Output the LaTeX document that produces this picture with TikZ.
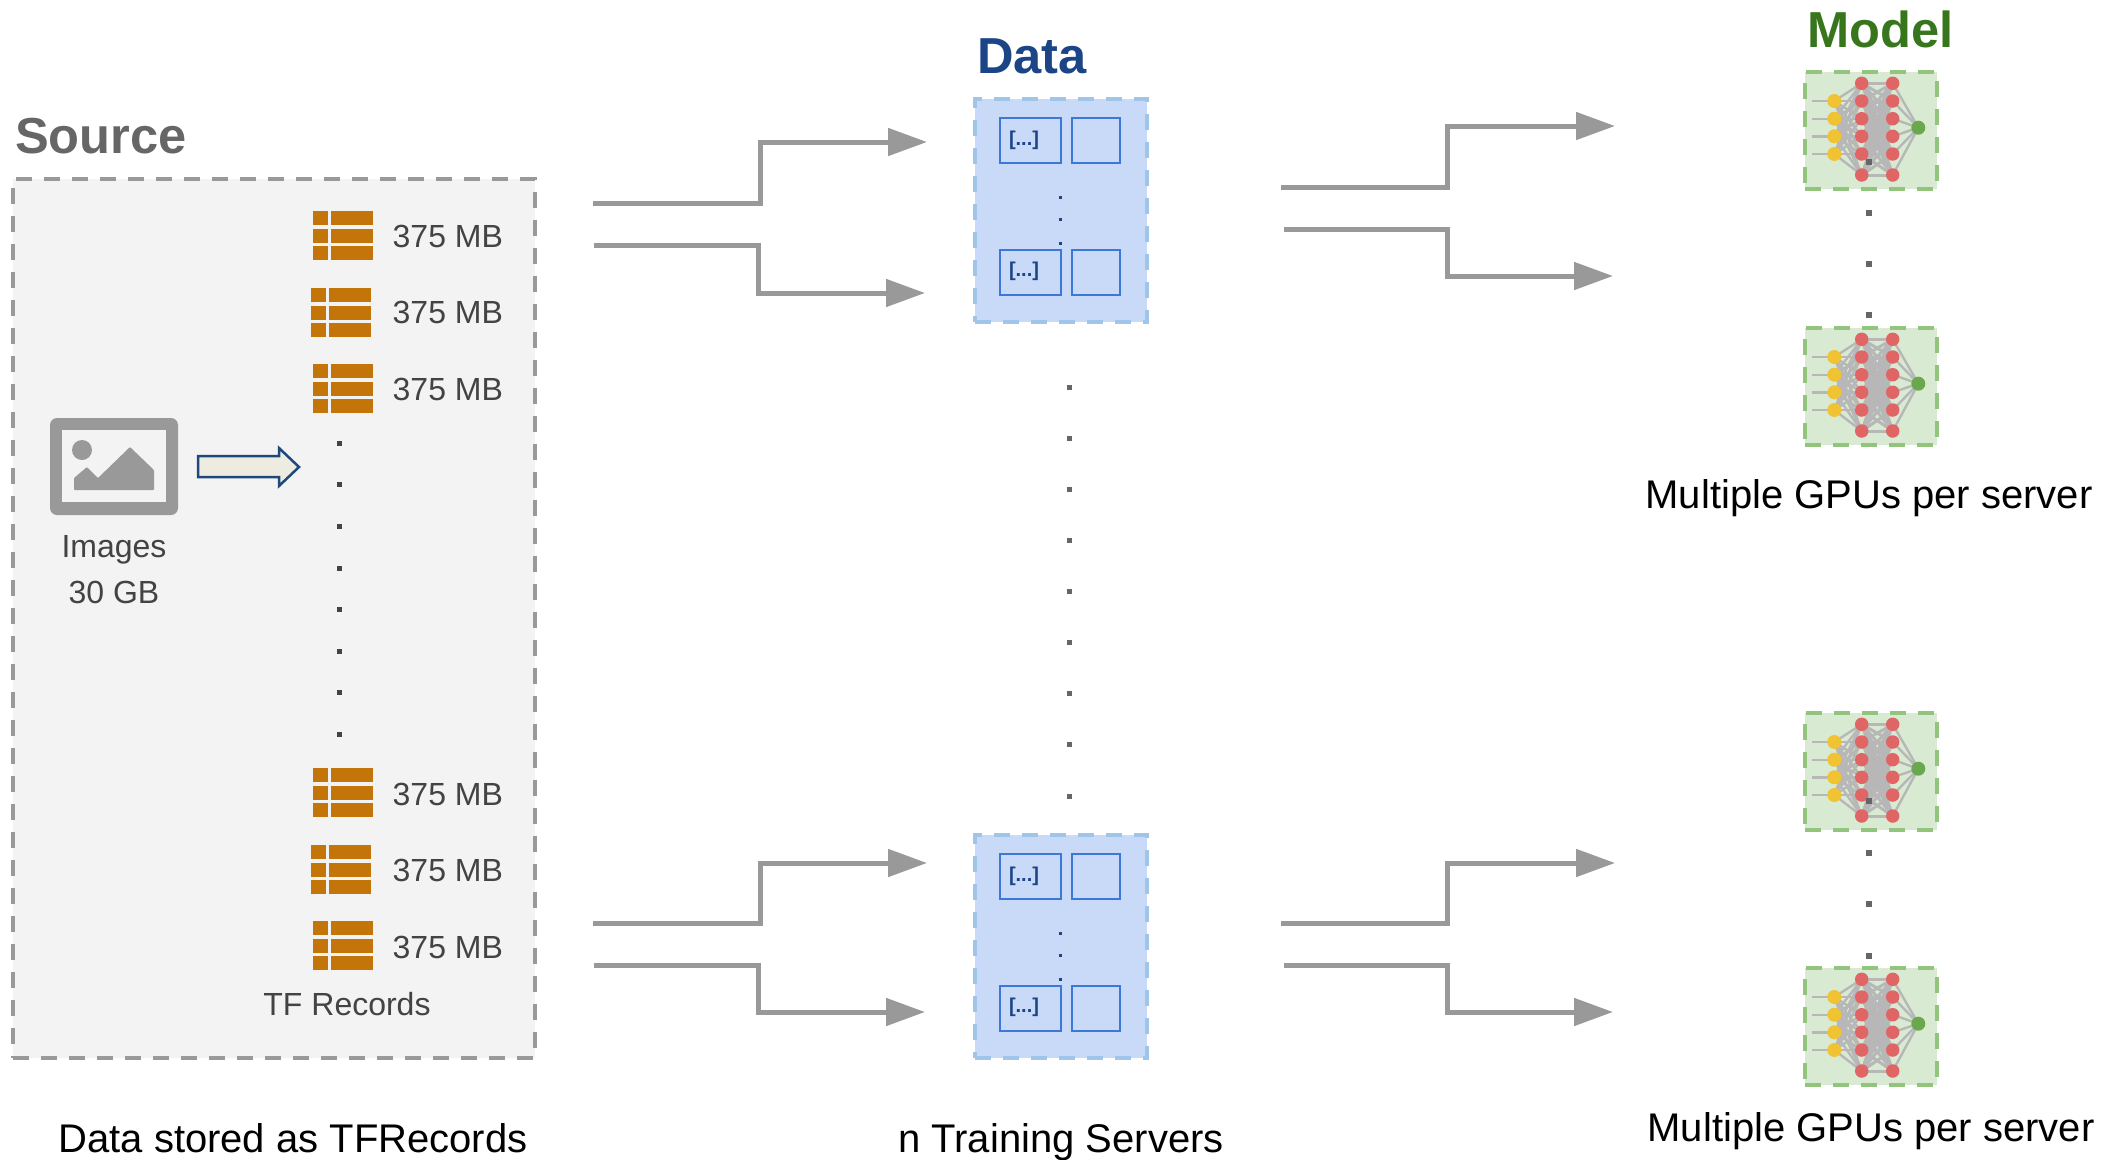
\documentclass[tikz,border=0pt]{standalone}
\usepackage{fontspec}
\setmainfont{Liberation Sans}
\usetikzlibrary{arrows.meta,backgrounds}
\definecolor{srcfill}{HTML}{F3F3F3}
\definecolor{grayline}{HTML}{999999}
\definecolor{txtdark}{HTML}{434343}
\definecolor{titlegray}{HTML}{666666}
\definecolor{tableor}{HTML}{C4750A}
\definecolor{navy}{HTML}{1C4587}
\definecolor{modelgreen}{HTML}{38761D}
\definecolor{bluefill}{HTML}{C9DAF8}
\definecolor{bluedash}{HTML}{9FC5E8}
\definecolor{blueinner}{HTML}{3C78D8}
\definecolor{greenfill}{HTML}{D9EAD3}
\definecolor{greendash}{HTML}{93C47D}
\definecolor{nnyellow}{HTML}{F1C232}
\definecolor{nnred}{HTML}{E06666}
\definecolor{nngreen}{HTML}{6AA84F}
\definecolor{nnline}{HTML}{B7B7B7}
\definecolor{blockfill}{HTML}{EEECE1}
\definecolor{blockline}{HTML}{1F497D}
\tikzset{
  title/.style={anchor=base west,inner sep=0pt,font=\fontsize{50.6}{56}\selectfont\bfseries},
  smalltxt/.style={inner sep=0pt,text=txtdark,font=\fontsize{32}{38}\selectfont},
  bigtxt/.style={inner sep=0pt,text=black,font=\fontsize{40}{46}\selectfont},
  srcbox/.style={draw=grayline,fill=srcfill,line width=3.5pt,dash pattern=on 16pt off 12pt,inner sep=0pt},
  srvbox/.style={draw=bluedash,fill=bluefill,line width=4pt,dash pattern=on 16pt off 12pt,inner sep=0pt},
  gpubox/.style={draw=greendash,fill=greenfill,line width=4pt,dash pattern=on 16pt off 12pt,inner sep=0pt},
  innerbox/.style={draw=blueinner,line width=2pt,inner sep=0pt},
  brk/.style={inner sep=0pt,text=navy,font=\fontsize{20}{24}\selectfont\bfseries},
  flow/.style={draw=grayline,line width=5pt,-{Stealth[length=39pt,width=27pt,inset=0pt]}},
  nncircle/.style={circle,inner sep=0pt,minimum size=#1},
  nnedge/.style={draw=nnline,line width=2.4pt},
  nnedgethick/.style={draw=nnline,line width=3pt},
}
% rectangle node from corners
\newcommand{\rectnode}[6]{%
  \pgfmathsetmacro{\rcx}{(#3+#5)/2}\pgfmathsetmacro{\rcy}{(#4+#6)/2}%
  \pgfmathsetmacro{\rw}{#5-#3}\pgfmathsetmacro{\rh}{#6-#4}%
  \node[#2,minimum width=\rw pt,minimum height=\rh pt] (#1) at (\rcx,\rcy) {};}
% dot
\newcommand{\sqdot}[4]{\fill[#1] (#2-#4/2,#3-#4/2) rectangle (#2+#4/2,#3+#4/2);}
% table icon
\newcommand{\tableicon}[2]{%
  \begin{scope}[shift={(#1,#2)}]
    \foreach \ya/\yb in {0/14,17.5/31.5,35/49}{
      \fill[tableor] (0,\ya) rectangle (15,\yb);
      \fill[tableor] (18,\ya) rectangle (59.5,\yb);
    }
  \end{scope}}
% elbow arrow
\newcommand{\flowarrow}[6]{%
  \coordinate (#1s) at (#2,#3);
  \coordinate (#1m) at (#4,#6);
  \coordinate (#1e) at (#5,#6);
  \draw[flow] (#1s) -| (#1m) -- (#1e);}
% server
\newcommand{\server}[2]{%
  \begin{scope}[shift={(0,#2)}]
    \rectnode{#1}{srvbox}{975}{99}{1147}{322}
    \rectnode{#1a}{innerbox}{1000}{118}{1061}{163}
    \rectnode{#1b}{innerbox}{1072}{118}{1120}{163}
    \rectnode{#1c}{innerbox}{1000}{250}{1061}{295}
    \rectnode{#1d}{innerbox}{1072}{250}{1120}{295}
    \node[brk] (#1at) at (1024,140) {[...]};
    \node[brk] (#1ct) at (1024,271) {[...]};
    \sqdot{navy}{1060}{197}{3}
    \sqdot{navy}{1060}{219}{3}
    \sqdot{navy}{1060}{243}{3}
  \end{scope}}
% GPU / network
\newcommand{\gpu}[2]{%
  \begin{scope}[shift={(1805,#2)}]
    \begin{scope}[on background layer]
      \rectnode{#1}{gpubox}{0}{0}{132}{117}
    \end{scope}
    \foreach \i/\y in {1/29,2/46.7,3/64.3,4/82}{
      \node[nncircle=14pt,fill=nnyellow] (#1y\i) at (29.3,\y) {};
      \coordinate (#1s\i) at (7.3,\y);
    }
    \foreach \i/\y in {1/11.3,2/29,3/46.7,4/64.3,5/82,6/103}{
      \node[nncircle=13.5pt,fill=nnred] (#1p\i) at (56.7,\y) {};
      \node[nncircle=13.5pt,fill=nnred] (#1q\i) at (87.7,\y) {};
    }
    \node[nncircle=14pt,fill=nngreen] (#1o) at (113.3,55.7) {};
    \begin{scope}[on background layer]
      \foreach \i in {1,...,4}{
        \draw[nnedge] (#1s\i) -- (#1y\i.center);
        \foreach \j in {1,...,6}{\draw[nnedge] (#1y\i.center) -- (#1p\j.center);}
      }
      \foreach \i in {1,...,6}{
        \foreach \j in {1,...,6}{\draw[nnedgethick] (#1p\i.center) -- (#1q\j.center);}
        \draw[nnedge] (#1q\i.center) -- (#1o.center);
      }
    \end{scope}
  \end{scope}}
\begin{document}
\begin{tikzpicture}[x=1pt,y=-1pt]
\path[use as bounding box] (0,0) rectangle (2108,1159);
% titles
\node[title,text=titlegray] (tsrc) at (15,153) {Source};
\node[title,text=navy] (tdata) at (977,73) {Data};
\node[title,text=modelgreen] (tmodel) at (1807,47) {Model};
% source
\rectnode{source}{srcbox}{13}{179}{535}{1058}
\foreach \x/\y in {313/211,311/288,313/364,313/768,311/845,313/921}{\tableicon{\x}{\y}}
\foreach \n/\y in {a/236,b/312,c/389,d/794,e/870,f/947}{
  \node[smalltxt,anchor=west] (mb\n) at (392.5,\y) {375 MB};
}
\foreach \y in {443,484,526,568,609,651,692,734}{\sqdot{txtdark}{339}{\y}{5}}
\node[smalltxt] (timg) at (114,550) {Images};
\node[smalltxt] (tgb) at (114,592) {30 GB};
\node[smalltxt] (ttf) at (347,1004) {TF Records};
% image icon
\begin{scope}[shift={(50,418)}]
  \fill[grayline,rounded corners=7pt] (0,0) rectangle (128,97);
  \fill[srcfill] (12,12) rectangle (116,84);
  \fill[grayline] (32,32) circle (10);
  \fill[grayline,rounded corners=1pt] (24,72) -- (24,60) -- (37,49) -- (48,60) -- (80,29) -- (104,52) -- (104,72) -- cycle;
\end{scope}
% block arrow
\draw[draw=blockline,fill=blockfill,line width=2.5pt,line join=miter]
  (198,456) -- (279,456) -- (279,448) -- (299,467) -- (279,486) -- (279,477) -- (198,477) -- cycle;
% bottom labels
\node[bigtxt] (ldata) at (293,1138) {Data stored as TFRecords};
\node[bigtxt] (ltrain) at (1061,1142) {n Training Servers};
\node[bigtxt] (lgpu1) at (1869,498) {Multiple GPUs per server};
\node[bigtxt] (lgpu2) at (1871,1131) {Multiple GPUs per server};
% servers
\server{sa}{0}
\server{sb}{736}
\foreach \y in {387,438,489,540,591,642,693,744,796}{\sqdot{titlegray}{1069}{\y}{5}}
% gpus
\gpu{ga}{72}
\gpu{gb}{328}
\gpu{gc}{713}
\gpu{gd}{968}
\foreach \y in {162,213,264,315,801,853,904,956}{\sqdot{titlegray}{1869}{\y}{6}}
% arrows
\flowarrow{p}{593}{203}{760}{927}{142}
\flowarrow{q}{594}{245}{758}{925}{293}
\flowarrow{r}{593}{923}{760}{927}{863}
\flowarrow{u}{594}{965}{758}{925}{1012}
\flowarrow{v}{1281}{187}{1447}{1615}{126}
\flowarrow{w}{1284}{229}{1447}{1613}{276}
\flowarrow{k}{1281}{923}{1447}{1615}{863}
\flowarrow{z}{1284}{965}{1447}{1613}{1012}
\end{tikzpicture}
\end{document}
